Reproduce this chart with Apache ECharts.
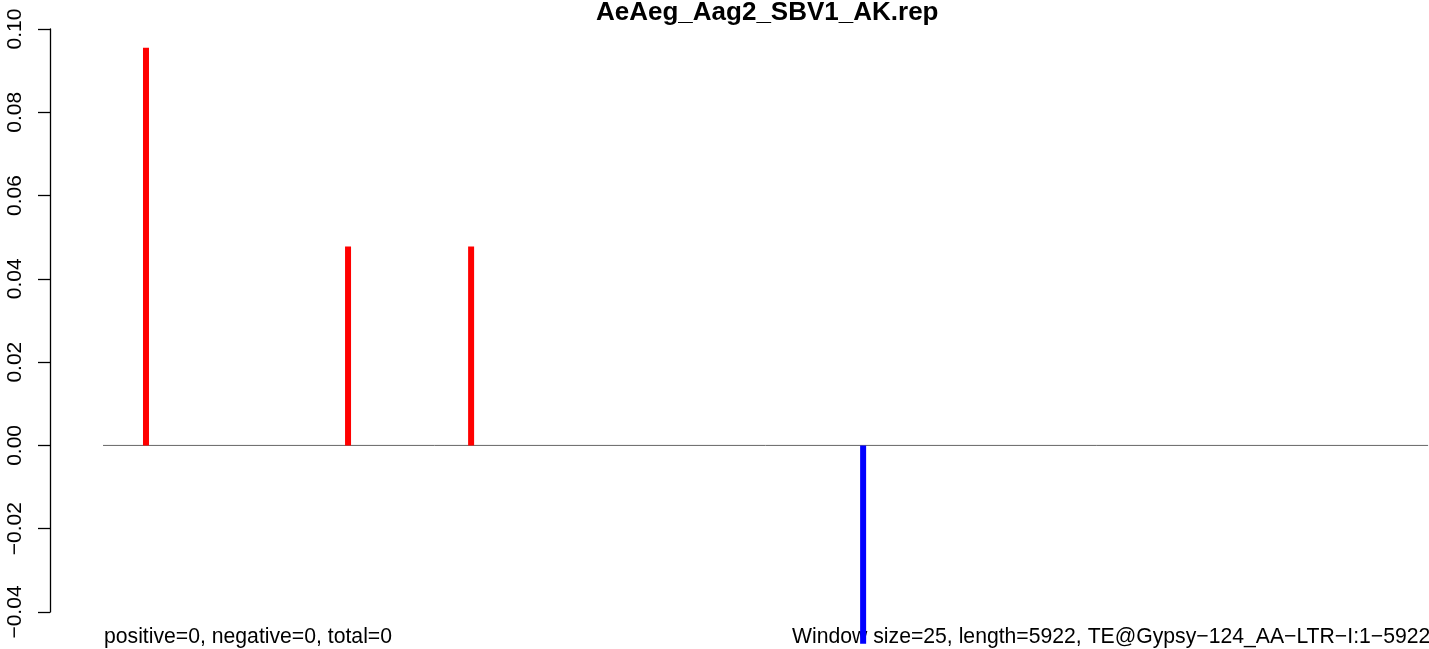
<!DOCTYPE html>
<html>
<head>
<meta charset="utf-8">
<script src="https://cdn.jsdelivr.net/npm/echarts@6/dist/echarts.min.js"></script>
<style>
  html, body { margin: 0; padding: 0; background: #fff; }
  #chart { width: 1429px; height: 649px; }
</style>
</head>
<body>
<div id="chart"></div>
<script>
// window positions along the TE (bp) and their signed values
const positions = [192, 1095, 1645, 3397];
const values = [0.0955, 0.0478, 0.0478, -0.0476];
const seqLength = 5922;
const yTicks = [-0.04, -0.02, 0.00, 0.02, 0.04, 0.06, 0.08, 0.10];

const titleText = 'AeAeg_Aag2_SBV1_AK.rep';
const leftNote = 'positive=0, negative=0, total=0';
const rightNote = 'Window size=25, length=5922, TE@Gypsy\u2212124_AA\u2212LTR\u2212I:1\u22125922';

const font = '"Liberation Sans", Arial, Helvetica, sans-serif';

const chart = echarts.init(document.getElementById('chart'));

const option = {
  animation: false,
  backgroundColor: '#fff',
  grid: {
    left: 50,
    right: 0,
    top: 29,
    bottom: 37,
    containLabel: false,
    outerBoundsMode: 'none',
  },
  xAxis: {
    type: 'value',
    min: -237,
    max: 5926,
    show: false,
  },
  yAxis: {
    type: 'value',
    min: yTicks[0],
    max: yTicks[yTicks.length - 1],
    interval: 0.02,
    axisLine: { show: true, onZero: false, lineStyle: { color: '#000', width: 1.3 } },
    axisTick: { show: true, length: 12, lineStyle: { color: '#000', width: 1.3 } },
    splitLine: { show: false },
    axisLabel: {
      rotate: 90,
      margin: 24,
      fontSize: 21,
      fontFamily: font,
      color: '#000',
      formatter: v => (v < 0 ? '\u2212' : '') + Math.abs(v).toFixed(2),
    },
  },
  graphic: [
    {
      type: 'text',
      left: 768 - 172,
      top: 0,
      style: {
        x: 0, y: 0,
        text: titleText,
        font: 'bold 26px ' + font,
        fill: '#000',
      },
    },
    {
      type: 'text',
      x: 104,
      y: 637,
      style: {
        text: leftNote,
        font: '21.2px ' + font,
        fill: '#000',
        verticalAlign: 'middle',
      },
    },
    {
      type: 'text',
      x: 792,
      y: 637,
      style: {
        text: rightNote,
        font: '21.2px ' + font,
        fill: '#000',
        verticalAlign: 'middle',
      },
    },
  ],
  series: [
    {
      type: 'line',
      data: [[0, 0], [seqLength, 0]],
      symbol: 'none',
      silent: true,
      lineStyle: { color: '#666', width: 1 },
      z: 1,
    },
    {
      type: 'bar',
      barWidth: 6,
      clip: false,
      z: 2,
      data: positions.map((p, i) => ({
        value: [p, values[i]],
        itemStyle: { color: values[i] >= 0 ? '#ff0000' : '#0000ff' },
      })),
    },
  ],
};

chart.setOption(option);
</script>
</body>
</html>
